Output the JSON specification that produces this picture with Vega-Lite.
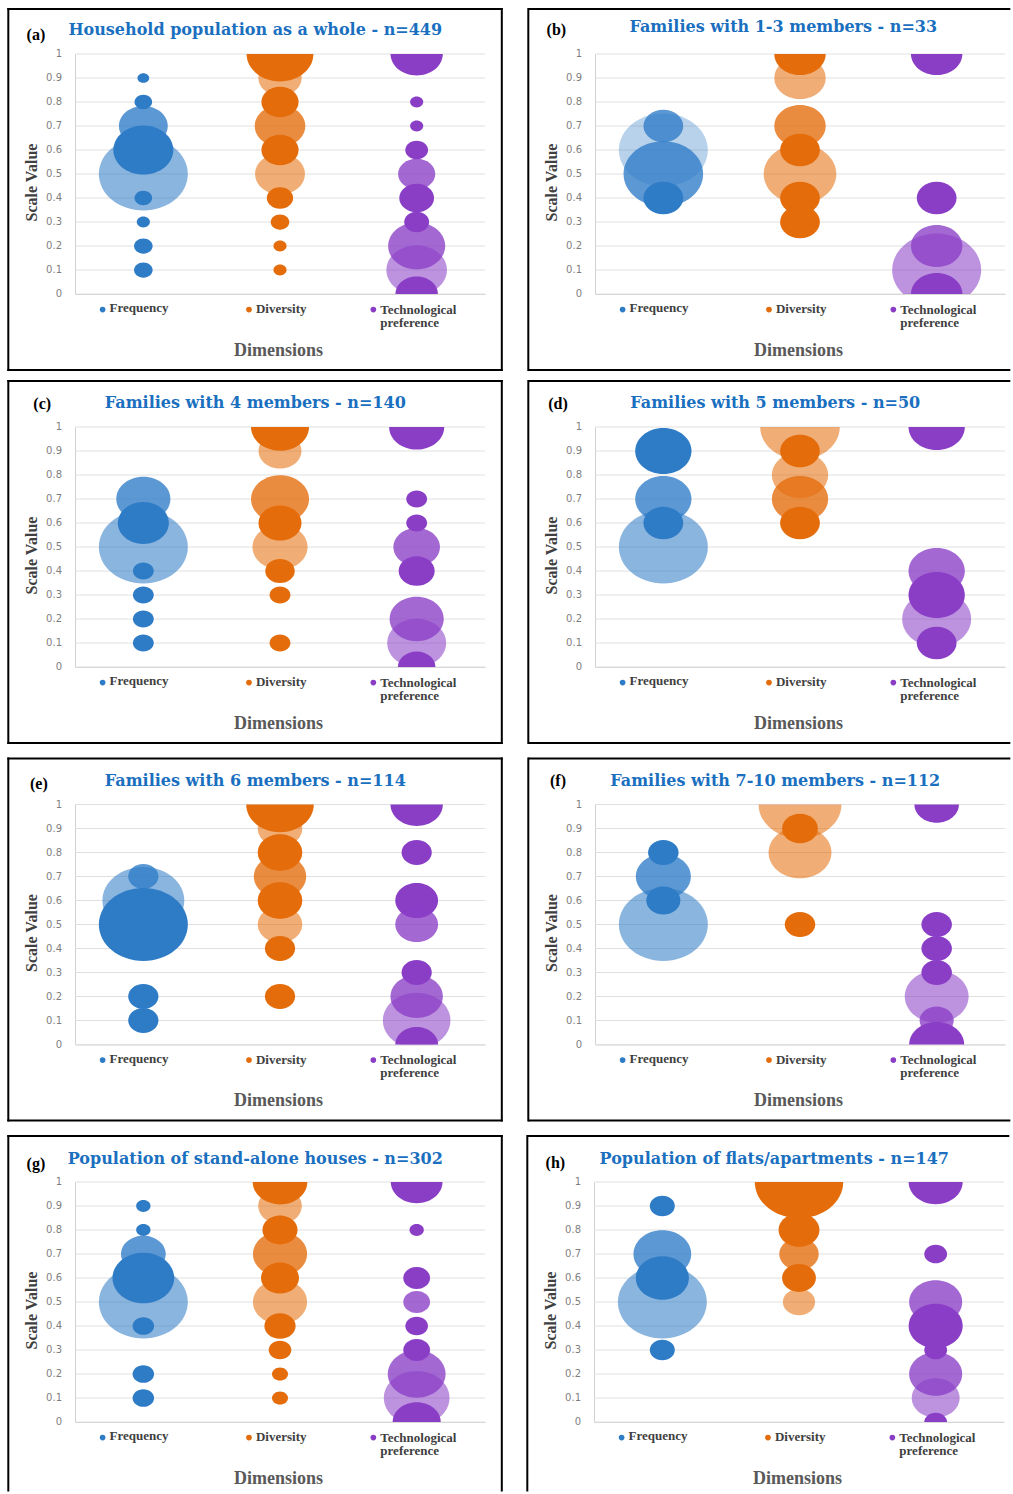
{
  "$schema": "https://vega.github.io/schema/vega-lite/v6.json",
  "padding": {"left": 6, "top": 7, "right": 0, "bottom": 0},
  "datasets": {
    "ticks": [{"t":0},{"t":0.1},{"t":0.2},{"t":0.3},{"t":0.4},{"t":0.5},{"t":0.6},{"t":0.7},{"t":0.8},{"t":0.9},{"t":1}],
    "bubbles": [
      {"p":"a","dim":"Frequency","x":1,"v":0.9,"n":4,"tone":"solid"},
      {"p":"a","dim":"Frequency","x":1,"v":0.8,"n":9,"tone":"solid"},
      {"p":"a","dim":"Frequency","x":1,"v":0.7,"n":69,"tone":"medium"},
      {"p":"a","dim":"Frequency","x":1,"v":0.6,"n":104,"tone":"solid"},
      {"p":"a","dim":"Frequency","x":1,"v":0.5,"n":229,"tone":"light"},
      {"p":"a","dim":"Frequency","x":1,"v":0.4,"n":9,"tone":"solid"},
      {"p":"a","dim":"Frequency","x":1,"v":0.3,"n":5,"tone":"solid"},
      {"p":"a","dim":"Frequency","x":1,"v":0.2,"n":10,"tone":"solid"},
      {"p":"a","dim":"Frequency","x":1,"v":0.1,"n":10,"tone":"solid"},
      {"p":"a","dim":"Diversity","x":2,"v":1,"n":129,"tone":"solid"},
      {"p":"a","dim":"Diversity","x":2,"v":0.9,"n":54,"tone":"light"},
      {"p":"a","dim":"Diversity","x":2,"v":0.8,"n":40,"tone":"solid"},
      {"p":"a","dim":"Diversity","x":2,"v":0.7,"n":74,"tone":"medium"},
      {"p":"a","dim":"Diversity","x":2,"v":0.6,"n":40,"tone":"solid"},
      {"p":"a","dim":"Diversity","x":2,"v":0.5,"n":72,"tone":"light"},
      {"p":"a","dim":"Diversity","x":2,"v":0.4,"n":20,"tone":"solid"},
      {"p":"a","dim":"Diversity","x":2,"v":0.3,"n":10,"tone":"solid"},
      {"p":"a","dim":"Diversity","x":2,"v":0.2,"n":5,"tone":"solid"},
      {"p":"a","dim":"Diversity","x":2,"v":0.1,"n":5,"tone":"solid"},
      {"p":"a","dim":"Technological preference","x":3,"v":1,"n":79,"tone":"solid"},
      {"p":"a","dim":"Technological preference","x":3,"v":0.8,"n":5,"tone":"solid"},
      {"p":"a","dim":"Technological preference","x":3,"v":0.7,"n":5,"tone":"solid"},
      {"p":"a","dim":"Technological preference","x":3,"v":0.6,"n":15,"tone":"solid"},
      {"p":"a","dim":"Technological preference","x":3,"v":0.5,"n":40,"tone":"medium"},
      {"p":"a","dim":"Technological preference","x":3,"v":0.4,"n":35,"tone":"solid"},
      {"p":"a","dim":"Technological preference","x":3,"v":0.3,"n":18,"tone":"solid"},
      {"p":"a","dim":"Technological preference","x":3,"v":0.2,"n":94,"tone":"medium"},
      {"p":"a","dim":"Technological preference","x":3,"v":0.1,"n":106,"tone":"light"},
      {"p":"a","dim":"Technological preference","x":3,"v":0,"n":52,"tone":"solid"},

      {"p":"b","dim":"Frequency","x":1,"v":0.7,"n":3,"tone":"medium"},
      {"p":"b","dim":"Frequency","x":1,"v":0.6,"n":15,"tone":"faint"},
      {"p":"b","dim":"Frequency","x":1,"v":0.5,"n":12,"tone":"medium"},
      {"p":"b","dim":"Frequency","x":1,"v":0.4,"n":3,"tone":"solid"},
      {"p":"b","dim":"Diversity","x":2,"v":1,"n":5,"tone":"solid"},
      {"p":"b","dim":"Diversity","x":2,"v":0.9,"n":5,"tone":"light"},
      {"p":"b","dim":"Diversity","x":2,"v":0.7,"n":5,"tone":"medium"},
      {"p":"b","dim":"Diversity","x":2,"v":0.6,"n":3,"tone":"solid"},
      {"p":"b","dim":"Diversity","x":2,"v":0.5,"n":10,"tone":"light"},
      {"p":"b","dim":"Diversity","x":2,"v":0.4,"n":3,"tone":"solid"},
      {"p":"b","dim":"Diversity","x":2,"v":0.3,"n":3,"tone":"solid"},
      {"p":"b","dim":"Technological preference","x":3,"v":1,"n":5,"tone":"solid"},
      {"p":"b","dim":"Technological preference","x":3,"v":0.4,"n":3,"tone":"solid"},
      {"p":"b","dim":"Technological preference","x":3,"v":0.2,"n":5,"tone":"medium"},
      {"p":"b","dim":"Technological preference","x":3,"v":0.1,"n":15,"tone":"light"},
      {"p":"b","dim":"Technological preference","x":3,"v":0,"n":5,"tone":"solid"},

      {"p":"c","dim":"Frequency","x":1,"v":0.7,"n":27,"tone":"medium"},
      {"p":"c","dim":"Frequency","x":1,"v":0.6,"n":24,"tone":"solid"},
      {"p":"c","dim":"Frequency","x":1,"v":0.5,"n":73,"tone":"light"},
      {"p":"c","dim":"Frequency","x":1,"v":0.4,"n":4,"tone":"solid"},
      {"p":"c","dim":"Frequency","x":1,"v":0.3,"n":4,"tone":"solid"},
      {"p":"c","dim":"Frequency","x":1,"v":0.2,"n":4,"tone":"solid"},
      {"p":"c","dim":"Frequency","x":1,"v":0.1,"n":4,"tone":"solid"},
      {"p":"c","dim":"Diversity","x":2,"v":1,"n":31,"tone":"solid"},
      {"p":"c","dim":"Diversity","x":2,"v":0.9,"n":17,"tone":"light"},
      {"p":"c","dim":"Diversity","x":2,"v":0.7,"n":31,"tone":"medium"},
      {"p":"c","dim":"Diversity","x":2,"v":0.6,"n":17,"tone":"solid"},
      {"p":"c","dim":"Diversity","x":2,"v":0.5,"n":28,"tone":"light"},
      {"p":"c","dim":"Diversity","x":2,"v":0.4,"n":8,"tone":"solid"},
      {"p":"c","dim":"Diversity","x":2,"v":0.3,"n":4,"tone":"solid"},
      {"p":"c","dim":"Diversity","x":2,"v":0.1,"n":4,"tone":"solid"},
      {"p":"c","dim":"Technological preference","x":3,"v":1,"n":28,"tone":"solid"},
      {"p":"c","dim":"Technological preference","x":3,"v":0.7,"n":4,"tone":"solid"},
      {"p":"c","dim":"Technological preference","x":3,"v":0.6,"n":4,"tone":"solid"},
      {"p":"c","dim":"Technological preference","x":3,"v":0.5,"n":20,"tone":"medium"},
      {"p":"c","dim":"Technological preference","x":3,"v":0.4,"n":12,"tone":"solid"},
      {"p":"c","dim":"Technological preference","x":3,"v":0.2,"n":27,"tone":"medium"},
      {"p":"c","dim":"Technological preference","x":3,"v":0.1,"n":32,"tone":"light"},
      {"p":"c","dim":"Technological preference","x":3,"v":0,"n":13,"tone":"solid"},

      {"p":"d","dim":"Frequency","x":1,"v":0.9,"n":10,"tone":"solid"},
      {"p":"d","dim":"Frequency","x":1,"v":0.7,"n":10,"tone":"medium"},
      {"p":"d","dim":"Frequency","x":1,"v":0.6,"n":5,"tone":"solid"},
      {"p":"d","dim":"Frequency","x":1,"v":0.5,"n":25,"tone":"light"},
      {"p":"d","dim":"Diversity","x":2,"v":1,"n":20,"tone":"light"},
      {"p":"d","dim":"Diversity","x":2,"v":0.9,"n":5,"tone":"solid"},
      {"p":"d","dim":"Diversity","x":2,"v":0.8,"n":10,"tone":"light"},
      {"p":"d","dim":"Diversity","x":2,"v":0.7,"n":10,"tone":"medium"},
      {"p":"d","dim":"Diversity","x":2,"v":0.6,"n":5,"tone":"solid"},
      {"p":"d","dim":"Technological preference","x":3,"v":1,"n":10,"tone":"solid"},
      {"p":"d","dim":"Technological preference","x":3,"v":0.4,"n":10,"tone":"medium"},
      {"p":"d","dim":"Technological preference","x":3,"v":0.3,"n":10,"tone":"solid"},
      {"p":"d","dim":"Technological preference","x":3,"v":0.2,"n":15,"tone":"light"},
      {"p":"d","dim":"Technological preference","x":3,"v":0.1,"n":5,"tone":"solid"},

      {"p":"e","dim":"Frequency","x":1,"v":0.7,"n":6,"tone":"medium"},
      {"p":"e","dim":"Frequency","x":1,"v":0.6,"n":44,"tone":"light"},
      {"p":"e","dim":"Frequency","x":1,"v":0.5,"n":52,"tone":"solid"},
      {"p":"e","dim":"Frequency","x":1,"v":0.2,"n":6,"tone":"solid"},
      {"p":"e","dim":"Frequency","x":1,"v":0.1,"n":6,"tone":"solid"},
      {"p":"e","dim":"Diversity","x":2,"v":1,"n":30,"tone":"solid"},
      {"p":"e","dim":"Diversity","x":2,"v":0.9,"n":13,"tone":"light"},
      {"p":"e","dim":"Diversity","x":2,"v":0.8,"n":13,"tone":"solid"},
      {"p":"e","dim":"Diversity","x":2,"v":0.7,"n":18,"tone":"medium"},
      {"p":"e","dim":"Diversity","x":2,"v":0.6,"n":13,"tone":"solid"},
      {"p":"e","dim":"Diversity","x":2,"v":0.5,"n":13,"tone":"light"},
      {"p":"e","dim":"Diversity","x":2,"v":0.4,"n":6,"tone":"solid"},
      {"p":"e","dim":"Diversity","x":2,"v":0.2,"n":6,"tone":"solid"},
      {"p":"e","dim":"Technological preference","x":3,"v":1,"n":18,"tone":"solid"},
      {"p":"e","dim":"Technological preference","x":3,"v":0.8,"n":6,"tone":"solid"},
      {"p":"e","dim":"Technological preference","x":3,"v":0.6,"n":12,"tone":"solid"},
      {"p":"e","dim":"Technological preference","x":3,"v":0.5,"n":12,"tone":"medium"},
      {"p":"e","dim":"Technological preference","x":3,"v":0.3,"n":6,"tone":"solid"},
      {"p":"e","dim":"Technological preference","x":3,"v":0.2,"n":18,"tone":"medium"},
      {"p":"e","dim":"Technological preference","x":3,"v":0.1,"n":30,"tone":"light"},
      {"p":"e","dim":"Technological preference","x":3,"v":0,"n":12,"tone":"solid"},

      {"p":"f","dim":"Frequency","x":1,"v":0.8,"n":8,"tone":"solid"},
      {"p":"f","dim":"Frequency","x":1,"v":0.7,"n":26,"tone":"medium"},
      {"p":"f","dim":"Frequency","x":1,"v":0.6,"n":10,"tone":"solid"},
      {"p":"f","dim":"Frequency","x":1,"v":0.5,"n":68,"tone":"light"},
      {"p":"f","dim":"Diversity","x":2,"v":1,"n":59,"tone":"light"},
      {"p":"f","dim":"Diversity","x":2,"v":0.9,"n":11,"tone":"solid"},
      {"p":"f","dim":"Diversity","x":2,"v":0.8,"n":34,"tone":"light"},
      {"p":"f","dim":"Diversity","x":2,"v":0.5,"n":8,"tone":"solid"},
      {"p":"f","dim":"Technological preference","x":3,"v":1,"n":17,"tone":"solid"},
      {"p":"f","dim":"Technological preference","x":3,"v":0.5,"n":8,"tone":"solid"},
      {"p":"f","dim":"Technological preference","x":3,"v":0.4,"n":8,"tone":"solid"},
      {"p":"f","dim":"Technological preference","x":3,"v":0.3,"n":8,"tone":"solid"},
      {"p":"f","dim":"Technological preference","x":3,"v":0.2,"n":35,"tone":"light"},
      {"p":"f","dim":"Technological preference","x":3,"v":0.1,"n":10,"tone":"medium"},
      {"p":"f","dim":"Technological preference","x":3,"v":0,"n":26,"tone":"solid"},

      {"p":"g","dim":"Frequency","x":1,"v":0.9,"n":4,"tone":"solid"},
      {"p":"g","dim":"Frequency","x":1,"v":0.8,"n":4,"tone":"solid"},
      {"p":"g","dim":"Frequency","x":1,"v":0.7,"n":39,"tone":"medium"},
      {"p":"g","dim":"Frequency","x":1,"v":0.6,"n":74,"tone":"solid"},
      {"p":"g","dim":"Frequency","x":1,"v":0.5,"n":154,"tone":"light"},
      {"p":"g","dim":"Frequency","x":1,"v":0.4,"n":9,"tone":"solid"},
      {"p":"g","dim":"Frequency","x":1,"v":0.2,"n":9,"tone":"solid"},
      {"p":"g","dim":"Frequency","x":1,"v":0.1,"n":9,"tone":"solid"},
      {"p":"g","dim":"Diversity","x":2,"v":1,"n":58,"tone":"solid"},
      {"p":"g","dim":"Diversity","x":2,"v":0.9,"n":37,"tone":"light"},
      {"p":"g","dim":"Diversity","x":2,"v":0.8,"n":24,"tone":"solid"},
      {"p":"g","dim":"Diversity","x":2,"v":0.7,"n":57,"tone":"medium"},
      {"p":"g","dim":"Diversity","x":2,"v":0.6,"n":28,"tone":"solid"},
      {"p":"g","dim":"Diversity","x":2,"v":0.5,"n":57,"tone":"light"},
      {"p":"g","dim":"Diversity","x":2,"v":0.4,"n":19,"tone":"solid"},
      {"p":"g","dim":"Diversity","x":2,"v":0.3,"n":10,"tone":"solid"},
      {"p":"g","dim":"Diversity","x":2,"v":0.2,"n":5,"tone":"solid"},
      {"p":"g","dim":"Diversity","x":2,"v":0.1,"n":5,"tone":"solid"},
      {"p":"g","dim":"Technological preference","x":3,"v":1,"n":52,"tone":"solid"},
      {"p":"g","dim":"Technological preference","x":3,"v":0.8,"n":4,"tone":"solid"},
      {"p":"g","dim":"Technological preference","x":3,"v":0.6,"n":14,"tone":"solid"},
      {"p":"g","dim":"Technological preference","x":3,"v":0.5,"n":14,"tone":"medium"},
      {"p":"g","dim":"Technological preference","x":3,"v":0.4,"n":10,"tone":"solid"},
      {"p":"g","dim":"Technological preference","x":3,"v":0.3,"n":14,"tone":"solid"},
      {"p":"g","dim":"Technological preference","x":3,"v":0.2,"n":65,"tone":"medium"},
      {"p":"g","dim":"Technological preference","x":3,"v":0.1,"n":84,"tone":"light"},
      {"p":"g","dim":"Technological preference","x":3,"v":0,"n":45,"tone":"solid"},

      {"p":"h","dim":"Frequency","x":1,"v":0.9,"n":6,"tone":"solid"},
      {"p":"h","dim":"Frequency","x":1,"v":0.7,"n":32,"tone":"medium"},
      {"p":"h","dim":"Frequency","x":1,"v":0.6,"n":27,"tone":"solid"},
      {"p":"h","dim":"Frequency","x":1,"v":0.5,"n":76,"tone":"light"},
      {"p":"h","dim":"Frequency","x":1,"v":0.3,"n":6,"tone":"solid"},
      {"p":"h","dim":"Diversity","x":2,"v":1,"n":75,"tone":"solid"},
      {"p":"h","dim":"Diversity","x":2,"v":0.8,"n":16,"tone":"solid"},
      {"p":"h","dim":"Diversity","x":2,"v":0.7,"n":15,"tone":"medium"},
      {"p":"h","dim":"Diversity","x":2,"v":0.6,"n":11,"tone":"solid"},
      {"p":"h","dim":"Diversity","x":2,"v":0.5,"n":10,"tone":"light"},
      {"p":"h","dim":"Technological preference","x":3,"v":1,"n":28,"tone":"solid"},
      {"p":"h","dim":"Technological preference","x":3,"v":0.7,"n":5,"tone":"solid"},
      {"p":"h","dim":"Technological preference","x":3,"v":0.5,"n":27,"tone":"medium"},
      {"p":"h","dim":"Technological preference","x":3,"v":0.4,"n":28,"tone":"solid"},
      {"p":"h","dim":"Technological preference","x":3,"v":0.3,"n":5,"tone":"solid"},
      {"p":"h","dim":"Technological preference","x":3,"v":0.2,"n":27,"tone":"medium"},
      {"p":"h","dim":"Technological preference","x":3,"v":0.1,"n":22,"tone":"light"},
      {"p":"h","dim":"Technological preference","x":3,"v":0,"n":5,"tone":"solid"}
    ]
  },
  "spacing": 7,
  "resolve": {"scale": {"size": "independent"}},
  "vconcat": [
    {
      "spacing": 22,
      "resolve": {"scale": {"size": "independent"}},
      "hconcat": [
        {
          "width": 410, "height": 240,
          "layer": [
            {"data": {"name": "ticks"}, "mark": {"type": "rule", "color": "#E0E0E0", "strokeWidth": 1}, "encoding": {"x": {"datum": 0.5}, "x2": {"datum": 3.5}, "y": {"field": "t", "type": "quantitative", "title": "Scale Value"}}},
            {"data": {"name": "bubbles"}, "transform": [{"filter": "datum.p == 'a'"}],
             "mark": {"type": "point", "filled": true, "clip": true, "strokeWidth": 0, "shape": "M1,0C1,0.4529,0.5523,0.82,0,0.82C-0.5523,0.82,-1,0.4529,-1,0C-1,-0.4529,-0.5523,-0.82,0,-0.82C0.5523,-0.82,1,-0.4529,1,0Z"},
             "encoding": {
               "x": {"field": "x", "type": "quantitative", "scale": {"domain": [0.5, 3.5], "nice": false, "zero": false}, "axis": {"title": "Dimensions", "labels": false, "ticks": false, "grid": false}},
               "y": {"field": "v", "type": "quantitative", "scale": {"domain": [0, 1], "nice": false, "zero": false}, "axis": {"title": "Scale Value", "labels": false, "grid": false, "ticks": false}},
               "size": {"field": "n", "type": "quantitative", "scale": {"zero": true, "nice": false, "range": [0, 7921]}, "legend": null},
               "color": {"field": "dim", "type": "nominal", "scale": {"domain": ["Frequency", "Diversity", "Technological preference"], "range": ["#2E7BC6", "#E46C0A", "#8A3EC6"]}, "legend": null},
               "opacity": {"field": "tone", "type": "ordinal", "scale": {"domain": ["solid", "medium", "light", "faint"], "range": [1, 0.34]}, "legend": null},
               "order": {"field": "n", "type": "quantitative", "sort": "descending"}
             }},
            {"data": {"name": "ticks"}, "mark": {"type": "text", "font": "DejaVu Sans", "fontSize": 10, "color": "#7F7F7F", "align": "right", "baseline": "middle", "dx": -13}, "encoding": {"x": {"datum": 0.5}, "y": {"field": "t", "type": "quantitative", "title": "Scale Value"}, "text": {"field": "t", "type": "quantitative", "format": "~g"}}},
            {"data": {"values": [{}]}, "mark": {"type": "rule", "color": "#000000", "strokeWidth": 2, "strokeCap": "square"}, "encoding": {"x": {"datum": 0.012}, "y": {"datum": -0.3167}, "y2": {"datum": 1.1875}}},
            {"data": {"values": [{}]}, "mark": {"type": "rule", "color": "#000000", "strokeWidth": 2, "strokeCap": "square"}, "encoding": {"x": {"datum": 0.012}, "x2": {"datum": 3.623}, "y": {"datum": 1.1875}}},
            {"data": {"values": [{}]}, "mark": {"type": "rule", "color": "#000000", "strokeWidth": 2, "strokeCap": "square"}, "encoding": {"x": {"datum": 3.623}, "y": {"datum": -0.3167}, "y2": {"datum": 1.1875}}},
            {"data": {"values": [{}]}, "mark": {"type": "rule", "color": "#000000", "strokeWidth": 2, "strokeCap": "square"}, "encoding": {"x": {"datum": 0.012}, "x2": {"datum": 3.623}, "y": {"datum": -0.3167}}},
            {"data": {"values": [{}]}, "mark": {"type": "text", "text": "Household population as a whole - n=449", "font": "DejaVu Serif", "fontSize": 16, "fontWeight": "bold", "color": "#1A6FBF", "align": "center", "baseline": "middle"}, "encoding": {"x": {"datum": 1.819}, "y": {"datum": 1.1}}},
            {"data": {"values": [{}]}, "mark": {"type": "text", "text": "(a)", "font": "Liberation Serif", "fontSize": 16, "fontWeight": "bold", "color": "#000000", "align": "left", "baseline": "middle"}, "encoding": {"x": {"datum": 0.146}, "y": {"datum": 1.08}}},
            {"data": {"values": [{}]}, "mark": {"type": "circle", "size": 32, "opacity": 1, "color": "#2E7BC6"}, "encoding": {"x": {"datum": 0.702}, "y": {"datum": -0.065}}},
            {"data": {"values": [{}]}, "mark": {"type": "circle", "size": 32, "opacity": 1, "color": "#E46C0A"}, "encoding": {"x": {"datum": 1.773}, "y": {"datum": -0.065}}},
            {"data": {"values": [{}]}, "mark": {"type": "circle", "size": 32, "opacity": 1, "color": "#8A3EC6"}, "encoding": {"x": {"datum": 2.683}, "y": {"datum": -0.065}}},
            {"data": {"values": [{}]}, "mark": {"type": "text", "text": "Frequency", "font": "Liberation Serif", "fontSize": 13, "fontWeight": "bold", "color": "#404040", "align": "left", "baseline": "top", "dx": 7}, "encoding": {"x": {"datum": 0.702}, "y": {"datum": -0.035}}},
            {"data": {"values": [{}]}, "mark": {"type": "text", "text": "Diversity", "font": "Liberation Serif", "fontSize": 13, "fontWeight": "bold", "color": "#404040", "align": "left", "baseline": "top", "dx": 7}, "encoding": {"x": {"datum": 1.773}, "y": {"datum": -0.039}}},
            {"data": {"values": [{}]}, "mark": {"type": "text", "text": ["Technological", "preference"], "lineHeight": 13, "font": "Liberation Serif", "fontSize": 13, "fontWeight": "bold", "color": "#404040", "align": "left", "baseline": "top", "dx": 7}, "encoding": {"x": {"datum": 2.683}, "y": {"datum": -0.041}}}
          ]
        },
        {
          "width": 410, "height": 240,
          "layer": [
            {"data": {"name": "ticks"}, "mark": {"type": "rule", "color": "#E0E0E0", "strokeWidth": 1}, "encoding": {"x": {"datum": 0.5}, "x2": {"datum": 3.5}, "y": {"field": "t", "type": "quantitative", "title": "Scale Value"}}},
            {"data": {"name": "bubbles"}, "transform": [{"filter": "datum.p == 'b'"}],
             "mark": {"type": "point", "filled": true, "clip": true, "strokeWidth": 0, "shape": "M1,0C1,0.4529,0.5523,0.82,0,0.82C-0.5523,0.82,-1,0.4529,-1,0C-1,-0.4529,-0.5523,-0.82,0,-0.82C0.5523,-0.82,1,-0.4529,1,0Z"},
             "encoding": {
               "x": {"field": "x", "type": "quantitative", "scale": {"domain": [0.5, 3.5], "nice": false, "zero": false}, "axis": {"title": "Dimensions", "labels": false, "ticks": false, "grid": false}},
               "y": {"field": "v", "type": "quantitative", "scale": {"domain": [0, 1], "nice": false, "zero": false}, "axis": {"title": "Scale Value", "labels": false, "grid": false, "ticks": false}},
               "size": {"field": "n", "type": "quantitative", "scale": {"zero": true, "nice": false, "range": [0, 7921]}, "legend": null},
               "color": {"field": "dim", "type": "nominal", "scale": {"domain": ["Frequency", "Diversity", "Technological preference"], "range": ["#2E7BC6", "#E46C0A", "#8A3EC6"]}, "legend": null},
               "opacity": {"field": "tone", "type": "ordinal", "scale": {"domain": ["solid", "medium", "light", "faint"], "range": [1, 0.34]}, "legend": null},
               "order": {"field": "n", "type": "quantitative", "sort": "descending"}
             }},
            {"data": {"name": "ticks"}, "mark": {"type": "text", "font": "DejaVu Sans", "fontSize": 10, "color": "#7F7F7F", "align": "right", "baseline": "middle", "dx": -13}, "encoding": {"x": {"datum": 0.5}, "y": {"field": "t", "type": "quantitative", "title": "Scale Value"}, "text": {"field": "t", "type": "quantitative", "format": "~g"}}},
            {"data": {"values": [{}]}, "mark": {"type": "rule", "color": "#000000", "strokeWidth": 2, "strokeCap": "square"}, "encoding": {"x": {"datum": 0.012}, "y": {"datum": -0.3167}, "y2": {"datum": 1.1875}}},
            {"data": {"values": [{}]}, "mark": {"type": "rule", "color": "#000000", "strokeWidth": 2}, "encoding": {"x": {"datum": 0.012}, "x2": {"datum": 3.539}, "y": {"datum": 1.1875}}},
            {"data": {"values": [{}]}, "mark": {"type": "rule", "color": "#000000", "strokeWidth": 2}, "encoding": {"x": {"datum": 0.012}, "x2": {"datum": 3.539}, "y": {"datum": -0.3167}}},
            {"data": {"values": [{}]}, "mark": {"type": "text", "text": "Families with 1-3 members - n=33", "font": "DejaVu Serif", "fontSize": 16, "fontWeight": "bold", "color": "#1A6FBF", "align": "center", "baseline": "middle"}, "encoding": {"x": {"datum": 1.878}, "y": {"datum": 1.111}}},
            {"data": {"values": [{}]}, "mark": {"type": "text", "text": "(b)", "font": "Liberation Serif", "fontSize": 16, "fontWeight": "bold", "color": "#000000", "align": "left", "baseline": "middle"}, "encoding": {"x": {"datum": 0.146}, "y": {"datum": 1.101}}},
            {"data": {"values": [{}]}, "mark": {"type": "circle", "size": 32, "opacity": 1, "color": "#2E7BC6"}, "encoding": {"x": {"datum": 0.702}, "y": {"datum": -0.065}}},
            {"data": {"values": [{}]}, "mark": {"type": "circle", "size": 32, "opacity": 1, "color": "#E46C0A"}, "encoding": {"x": {"datum": 1.773}, "y": {"datum": -0.065}}},
            {"data": {"values": [{}]}, "mark": {"type": "circle", "size": 32, "opacity": 1, "color": "#8A3EC6"}, "encoding": {"x": {"datum": 2.683}, "y": {"datum": -0.065}}},
            {"data": {"values": [{}]}, "mark": {"type": "text", "text": "Frequency", "font": "Liberation Serif", "fontSize": 13, "fontWeight": "bold", "color": "#404040", "align": "left", "baseline": "top", "dx": 7}, "encoding": {"x": {"datum": 0.702}, "y": {"datum": -0.035}}},
            {"data": {"values": [{}]}, "mark": {"type": "text", "text": "Diversity", "font": "Liberation Serif", "fontSize": 13, "fontWeight": "bold", "color": "#404040", "align": "left", "baseline": "top", "dx": 7}, "encoding": {"x": {"datum": 1.773}, "y": {"datum": -0.039}}},
            {"data": {"values": [{}]}, "mark": {"type": "text", "text": ["Technological", "preference"], "lineHeight": 13, "font": "Liberation Serif", "fontSize": 13, "fontWeight": "bold", "color": "#404040", "align": "left", "baseline": "top", "dx": 7}, "encoding": {"x": {"datum": 2.683}, "y": {"datum": -0.041}}}
          ]
        }
      ]
    },
    {
      "spacing": 11.5,
      "resolve": {"scale": {"size": "independent"}},
      "vconcat": [
        {
          "spacing": 22,
          "resolve": {"scale": {"size": "independent"}},
          "hconcat": [
            {
              "width": 410, "height": 240,
              "layer": [
                {"data": {"name": "ticks"}, "mark": {"type": "rule", "color": "#E0E0E0", "strokeWidth": 1}, "encoding": {"x": {"datum": 0.5}, "x2": {"datum": 3.5}, "y": {"field": "t", "type": "quantitative", "title": "Scale Value"}}},
                {"data": {"name": "bubbles"}, "transform": [{"filter": "datum.p == 'c'"}],
                 "mark": {"type": "point", "filled": true, "clip": true, "strokeWidth": 0, "shape": "M1,0C1,0.4529,0.5523,0.82,0,0.82C-0.5523,0.82,-1,0.4529,-1,0C-1,-0.4529,-0.5523,-0.82,0,-0.82C0.5523,-0.82,1,-0.4529,1,0Z"},
                 "encoding": {
                   "x": {"field": "x", "type": "quantitative", "scale": {"domain": [0.5, 3.5], "nice": false, "zero": false}, "axis": {"title": "Dimensions", "labels": false, "ticks": false, "grid": false}},
                   "y": {"field": "v", "type": "quantitative", "scale": {"domain": [0, 1], "nice": false, "zero": false}, "axis": {"title": "Scale Value", "labels": false, "grid": false, "ticks": false}},
                   "size": {"field": "n", "type": "quantitative", "scale": {"zero": true, "nice": false, "range": [0, 7921]}, "legend": null},
                   "color": {"field": "dim", "type": "nominal", "scale": {"domain": ["Frequency", "Diversity", "Technological preference"], "range": ["#2E7BC6", "#E46C0A", "#8A3EC6"]}, "legend": null},
                   "opacity": {"field": "tone", "type": "ordinal", "scale": {"domain": ["solid", "medium", "light", "faint"], "range": [1, 0.34]}, "legend": null},
                   "order": {"field": "n", "type": "quantitative", "sort": "descending"}
                 }},
                {"data": {"name": "ticks"}, "mark": {"type": "text", "font": "DejaVu Sans", "fontSize": 10, "color": "#7F7F7F", "align": "right", "baseline": "middle", "dx": -13}, "encoding": {"x": {"datum": 0.5}, "y": {"field": "t", "type": "quantitative", "title": "Scale Value"}, "text": {"field": "t", "type": "quantitative", "format": "~g"}}},
                {"data": {"values": [{}]}, "mark": {"type": "rule", "color": "#000000", "strokeWidth": 2, "strokeCap": "square"}, "encoding": {"x": {"datum": 0.012}, "y": {"datum": -0.3167}, "y2": {"datum": 1.1917}}},
                {"data": {"values": [{}]}, "mark": {"type": "rule", "color": "#000000", "strokeWidth": 2, "strokeCap": "square"}, "encoding": {"x": {"datum": 0.012}, "x2": {"datum": 3.623}, "y": {"datum": 1.1917}}},
                {"data": {"values": [{}]}, "mark": {"type": "rule", "color": "#000000", "strokeWidth": 2, "strokeCap": "square"}, "encoding": {"x": {"datum": 3.623}, "y": {"datum": -0.3167}, "y2": {"datum": 1.1917}}},
                {"data": {"values": [{}]}, "mark": {"type": "rule", "color": "#000000", "strokeWidth": 2, "strokeCap": "square"}, "encoding": {"x": {"datum": 0.012}, "x2": {"datum": 3.623}, "y": {"datum": -0.3167}}},
                {"data": {"values": [{}]}, "mark": {"type": "text", "text": "Families with 4 members - n=140", "font": "DejaVu Serif", "fontSize": 16, "fontWeight": "bold", "color": "#1A6FBF", "align": "center", "baseline": "middle"}, "encoding": {"x": {"datum": 1.819}, "y": {"datum": 1.098}}},
                {"data": {"values": [{}]}, "mark": {"type": "text", "text": "(c)", "font": "Liberation Serif", "fontSize": 16, "fontWeight": "bold", "color": "#000000", "align": "left", "baseline": "middle"}, "encoding": {"x": {"datum": 0.195}, "y": {"datum": 1.096}}},
                {"data": {"values": [{}]}, "mark": {"type": "circle", "size": 32, "opacity": 1, "color": "#2E7BC6"}, "encoding": {"x": {"datum": 0.702}, "y": {"datum": -0.065}}},
                {"data": {"values": [{}]}, "mark": {"type": "circle", "size": 32, "opacity": 1, "color": "#E46C0A"}, "encoding": {"x": {"datum": 1.773}, "y": {"datum": -0.065}}},
                {"data": {"values": [{}]}, "mark": {"type": "circle", "size": 32, "opacity": 1, "color": "#8A3EC6"}, "encoding": {"x": {"datum": 2.683}, "y": {"datum": -0.065}}},
                {"data": {"values": [{}]}, "mark": {"type": "text", "text": "Frequency", "font": "Liberation Serif", "fontSize": 13, "fontWeight": "bold", "color": "#404040", "align": "left", "baseline": "top", "dx": 7}, "encoding": {"x": {"datum": 0.702}, "y": {"datum": -0.035}}},
                {"data": {"values": [{}]}, "mark": {"type": "text", "text": "Diversity", "font": "Liberation Serif", "fontSize": 13, "fontWeight": "bold", "color": "#404040", "align": "left", "baseline": "top", "dx": 7}, "encoding": {"x": {"datum": 1.773}, "y": {"datum": -0.039}}},
                {"data": {"values": [{}]}, "mark": {"type": "text", "text": ["Technological", "preference"], "lineHeight": 13, "font": "Liberation Serif", "fontSize": 13, "fontWeight": "bold", "color": "#404040", "align": "left", "baseline": "top", "dx": 7}, "encoding": {"x": {"datum": 2.683}, "y": {"datum": -0.041}}}
              ]
            },
            {
              "width": 410, "height": 240,
              "layer": [
                {"data": {"name": "ticks"}, "mark": {"type": "rule", "color": "#E0E0E0", "strokeWidth": 1}, "encoding": {"x": {"datum": 0.5}, "x2": {"datum": 3.5}, "y": {"field": "t", "type": "quantitative", "title": "Scale Value"}}},
                {"data": {"name": "bubbles"}, "transform": [{"filter": "datum.p == 'd'"}],
                 "mark": {"type": "point", "filled": true, "clip": true, "strokeWidth": 0, "shape": "M1,0C1,0.4529,0.5523,0.82,0,0.82C-0.5523,0.82,-1,0.4529,-1,0C-1,-0.4529,-0.5523,-0.82,0,-0.82C0.5523,-0.82,1,-0.4529,1,0Z"},
                 "encoding": {
                   "x": {"field": "x", "type": "quantitative", "scale": {"domain": [0.5, 3.5], "nice": false, "zero": false}, "axis": {"title": "Dimensions", "labels": false, "ticks": false, "grid": false}},
                   "y": {"field": "v", "type": "quantitative", "scale": {"domain": [0, 1], "nice": false, "zero": false}, "axis": {"title": "Scale Value", "labels": false, "grid": false, "ticks": false}},
                   "size": {"field": "n", "type": "quantitative", "scale": {"zero": true, "nice": false, "range": [0, 7921]}, "legend": null},
                   "color": {"field": "dim", "type": "nominal", "scale": {"domain": ["Frequency", "Diversity", "Technological preference"], "range": ["#2E7BC6", "#E46C0A", "#8A3EC6"]}, "legend": null},
                   "opacity": {"field": "tone", "type": "ordinal", "scale": {"domain": ["solid", "medium", "light", "faint"], "range": [1, 0.34]}, "legend": null},
                   "order": {"field": "n", "type": "quantitative", "sort": "descending"}
                 }},
                {"data": {"name": "ticks"}, "mark": {"type": "text", "font": "DejaVu Sans", "fontSize": 10, "color": "#7F7F7F", "align": "right", "baseline": "middle", "dx": -13}, "encoding": {"x": {"datum": 0.5}, "y": {"field": "t", "type": "quantitative", "title": "Scale Value"}, "text": {"field": "t", "type": "quantitative", "format": "~g"}}},
                {"data": {"values": [{}]}, "mark": {"type": "rule", "color": "#000000", "strokeWidth": 2, "strokeCap": "square"}, "encoding": {"x": {"datum": 0.012}, "y": {"datum": -0.3167}, "y2": {"datum": 1.1917}}},
                {"data": {"values": [{}]}, "mark": {"type": "rule", "color": "#000000", "strokeWidth": 2}, "encoding": {"x": {"datum": 0.012}, "x2": {"datum": 3.539}, "y": {"datum": 1.1917}}},
                {"data": {"values": [{}]}, "mark": {"type": "rule", "color": "#000000", "strokeWidth": 2}, "encoding": {"x": {"datum": 0.012}, "x2": {"datum": 3.539}, "y": {"datum": -0.3167}}},
                {"data": {"values": [{}]}, "mark": {"type": "text", "text": "Families with 5 members - n=50", "font": "DejaVu Serif", "fontSize": 16, "fontWeight": "bold", "color": "#1A6FBF", "align": "center", "baseline": "middle"}, "encoding": {"x": {"datum": 1.819}, "y": {"datum": 1.098}}},
                {"data": {"values": [{}]}, "mark": {"type": "text", "text": "(d)", "font": "Liberation Serif", "fontSize": 16, "fontWeight": "bold", "color": "#000000", "align": "left", "baseline": "middle"}, "encoding": {"x": {"datum": 0.158}, "y": {"datum": 1.096}}},
                {"data": {"values": [{}]}, "mark": {"type": "circle", "size": 32, "opacity": 1, "color": "#2E7BC6"}, "encoding": {"x": {"datum": 0.702}, "y": {"datum": -0.065}}},
                {"data": {"values": [{}]}, "mark": {"type": "circle", "size": 32, "opacity": 1, "color": "#E46C0A"}, "encoding": {"x": {"datum": 1.773}, "y": {"datum": -0.065}}},
                {"data": {"values": [{}]}, "mark": {"type": "circle", "size": 32, "opacity": 1, "color": "#8A3EC6"}, "encoding": {"x": {"datum": 2.683}, "y": {"datum": -0.065}}},
                {"data": {"values": [{}]}, "mark": {"type": "text", "text": "Frequency", "font": "Liberation Serif", "fontSize": 13, "fontWeight": "bold", "color": "#404040", "align": "left", "baseline": "top", "dx": 7}, "encoding": {"x": {"datum": 0.702}, "y": {"datum": -0.035}}},
                {"data": {"values": [{}]}, "mark": {"type": "text", "text": "Diversity", "font": "Liberation Serif", "fontSize": 13, "fontWeight": "bold", "color": "#404040", "align": "left", "baseline": "top", "dx": 7}, "encoding": {"x": {"datum": 1.773}, "y": {"datum": -0.039}}},
                {"data": {"values": [{}]}, "mark": {"type": "text", "text": ["Technological", "preference"], "lineHeight": 13, "font": "Liberation Serif", "fontSize": 13, "fontWeight": "bold", "color": "#404040", "align": "left", "baseline": "top", "dx": 7}, "encoding": {"x": {"datum": 2.683}, "y": {"datum": -0.041}}}
              ]
            }
          ]
        },
        {
          "spacing": 22,
          "resolve": {"scale": {"size": "independent"}},
          "hconcat": [
            {
              "width": 410, "height": 240,
              "layer": [
                {"data": {"name": "ticks"}, "mark": {"type": "rule", "color": "#E0E0E0", "strokeWidth": 1}, "encoding": {"x": {"datum": 0.5}, "x2": {"datum": 3.5}, "y": {"field": "t", "type": "quantitative", "title": "Scale Value"}}},
                {"data": {"name": "bubbles"}, "transform": [{"filter": "datum.p == 'e'"}],
                 "mark": {"type": "point", "filled": true, "clip": true, "strokeWidth": 0, "shape": "M1,0C1,0.4529,0.5523,0.82,0,0.82C-0.5523,0.82,-1,0.4529,-1,0C-1,-0.4529,-0.5523,-0.82,0,-0.82C0.5523,-0.82,1,-0.4529,1,0Z"},
                 "encoding": {
                   "x": {"field": "x", "type": "quantitative", "scale": {"domain": [0.5, 3.5], "nice": false, "zero": false}, "axis": {"title": "Dimensions", "labels": false, "ticks": false, "grid": false}},
                   "y": {"field": "v", "type": "quantitative", "scale": {"domain": [0, 1], "nice": false, "zero": false}, "axis": {"title": "Scale Value", "labels": false, "grid": false, "ticks": false}},
                   "size": {"field": "n", "type": "quantitative", "scale": {"zero": true, "nice": false, "range": [0, 7921]}, "legend": null},
                   "color": {"field": "dim", "type": "nominal", "scale": {"domain": ["Frequency", "Diversity", "Technological preference"], "range": ["#2E7BC6", "#E46C0A", "#8A3EC6"]}, "legend": null},
                   "opacity": {"field": "tone", "type": "ordinal", "scale": {"domain": ["solid", "medium", "light", "faint"], "range": [1, 0.34]}, "legend": null},
                   "order": {"field": "n", "type": "quantitative", "sort": "descending"}
                 }},
                {"data": {"name": "ticks"}, "mark": {"type": "text", "font": "DejaVu Sans", "fontSize": 10, "color": "#7F7F7F", "align": "right", "baseline": "middle", "dx": -13}, "encoding": {"x": {"datum": 0.5}, "y": {"field": "t", "type": "quantitative", "title": "Scale Value"}, "text": {"field": "t", "type": "quantitative", "format": "~g"}}},
                {"data": {"values": [{}]}, "mark": {"type": "rule", "color": "#000000", "strokeWidth": 2, "strokeCap": "square"}, "encoding": {"x": {"datum": 0.012}, "y": {"datum": -0.3167}, "y2": {"datum": 1.1917}}},
                {"data": {"values": [{}]}, "mark": {"type": "rule", "color": "#000000", "strokeWidth": 2, "strokeCap": "square"}, "encoding": {"x": {"datum": 0.012}, "x2": {"datum": 3.623}, "y": {"datum": 1.1917}}},
                {"data": {"values": [{}]}, "mark": {"type": "rule", "color": "#000000", "strokeWidth": 2, "strokeCap": "square"}, "encoding": {"x": {"datum": 3.623}, "y": {"datum": -0.3167}, "y2": {"datum": 1.1917}}},
                {"data": {"values": [{}]}, "mark": {"type": "rule", "color": "#000000", "strokeWidth": 2, "strokeCap": "square"}, "encoding": {"x": {"datum": 0.012}, "x2": {"datum": 3.623}, "y": {"datum": -0.3167}}},
                {"data": {"values": [{}]}, "mark": {"type": "text", "text": "Families with 6 members - n=114", "font": "DejaVu Serif", "fontSize": 16, "fontWeight": "bold", "color": "#1A6FBF", "align": "center", "baseline": "middle"}, "encoding": {"x": {"datum": 1.819}, "y": {"datum": 1.098}}},
                {"data": {"values": [{}]}, "mark": {"type": "text", "text": "(e)", "font": "Liberation Serif", "fontSize": 16, "fontWeight": "bold", "color": "#000000", "align": "left", "baseline": "middle"}, "encoding": {"x": {"datum": 0.171}, "y": {"datum": 1.085}}},
                {"data": {"values": [{}]}, "mark": {"type": "circle", "size": 32, "opacity": 1, "color": "#2E7BC6"}, "encoding": {"x": {"datum": 0.702}, "y": {"datum": -0.065}}},
                {"data": {"values": [{}]}, "mark": {"type": "circle", "size": 32, "opacity": 1, "color": "#E46C0A"}, "encoding": {"x": {"datum": 1.773}, "y": {"datum": -0.065}}},
                {"data": {"values": [{}]}, "mark": {"type": "circle", "size": 32, "opacity": 1, "color": "#8A3EC6"}, "encoding": {"x": {"datum": 2.683}, "y": {"datum": -0.065}}},
                {"data": {"values": [{}]}, "mark": {"type": "text", "text": "Frequency", "font": "Liberation Serif", "fontSize": 13, "fontWeight": "bold", "color": "#404040", "align": "left", "baseline": "top", "dx": 7}, "encoding": {"x": {"datum": 0.702}, "y": {"datum": -0.035}}},
                {"data": {"values": [{}]}, "mark": {"type": "text", "text": "Diversity", "font": "Liberation Serif", "fontSize": 13, "fontWeight": "bold", "color": "#404040", "align": "left", "baseline": "top", "dx": 7}, "encoding": {"x": {"datum": 1.773}, "y": {"datum": -0.039}}},
                {"data": {"values": [{}]}, "mark": {"type": "text", "text": ["Technological", "preference"], "lineHeight": 13, "font": "Liberation Serif", "fontSize": 13, "fontWeight": "bold", "color": "#404040", "align": "left", "baseline": "top", "dx": 7}, "encoding": {"x": {"datum": 2.683}, "y": {"datum": -0.041}}}
              ]
            },
            {
              "width": 410, "height": 240,
              "layer": [
                {"data": {"name": "ticks"}, "mark": {"type": "rule", "color": "#E0E0E0", "strokeWidth": 1}, "encoding": {"x": {"datum": 0.5}, "x2": {"datum": 3.5}, "y": {"field": "t", "type": "quantitative", "title": "Scale Value"}}},
                {"data": {"name": "bubbles"}, "transform": [{"filter": "datum.p == 'f'"}],
                 "mark": {"type": "point", "filled": true, "clip": true, "strokeWidth": 0, "shape": "M1,0C1,0.4529,0.5523,0.82,0,0.82C-0.5523,0.82,-1,0.4529,-1,0C-1,-0.4529,-0.5523,-0.82,0,-0.82C0.5523,-0.82,1,-0.4529,1,0Z"},
                 "encoding": {
                   "x": {"field": "x", "type": "quantitative", "scale": {"domain": [0.5, 3.5], "nice": false, "zero": false}, "axis": {"title": "Dimensions", "labels": false, "ticks": false, "grid": false}},
                   "y": {"field": "v", "type": "quantitative", "scale": {"domain": [0, 1], "nice": false, "zero": false}, "axis": {"title": "Scale Value", "labels": false, "grid": false, "ticks": false}},
                   "size": {"field": "n", "type": "quantitative", "scale": {"zero": true, "nice": false, "range": [0, 7921]}, "legend": null},
                   "color": {"field": "dim", "type": "nominal", "scale": {"domain": ["Frequency", "Diversity", "Technological preference"], "range": ["#2E7BC6", "#E46C0A", "#8A3EC6"]}, "legend": null},
                   "opacity": {"field": "tone", "type": "ordinal", "scale": {"domain": ["solid", "medium", "light", "faint"], "range": [1, 0.34]}, "legend": null},
                   "order": {"field": "n", "type": "quantitative", "sort": "descending"}
                 }},
                {"data": {"name": "ticks"}, "mark": {"type": "text", "font": "DejaVu Sans", "fontSize": 10, "color": "#7F7F7F", "align": "right", "baseline": "middle", "dx": -13}, "encoding": {"x": {"datum": 0.5}, "y": {"field": "t", "type": "quantitative", "title": "Scale Value"}, "text": {"field": "t", "type": "quantitative", "format": "~g"}}},
                {"data": {"values": [{}]}, "mark": {"type": "rule", "color": "#000000", "strokeWidth": 2, "strokeCap": "square"}, "encoding": {"x": {"datum": 0.012}, "y": {"datum": -0.3167}, "y2": {"datum": 1.1917}}},
                {"data": {"values": [{}]}, "mark": {"type": "rule", "color": "#000000", "strokeWidth": 2}, "encoding": {"x": {"datum": 0.012}, "x2": {"datum": 3.539}, "y": {"datum": 1.1917}}},
                {"data": {"values": [{}]}, "mark": {"type": "rule", "color": "#000000", "strokeWidth": 2}, "encoding": {"x": {"datum": 0.012}, "x2": {"datum": 3.539}, "y": {"datum": -0.3167}}},
                {"data": {"values": [{}]}, "mark": {"type": "text", "text": "Families with 7-10 members - n=112", "font": "DejaVu Serif", "fontSize": 16, "fontWeight": "bold", "color": "#1A6FBF", "align": "center", "baseline": "middle"}, "encoding": {"x": {"datum": 1.819}, "y": {"datum": 1.098}}},
                {"data": {"values": [{}]}, "mark": {"type": "text", "text": "(f)", "font": "Liberation Serif", "fontSize": 16, "fontWeight": "bold", "color": "#000000", "align": "left", "baseline": "middle"}, "encoding": {"x": {"datum": 0.171}, "y": {"datum": 1.098}}},
                {"data": {"values": [{}]}, "mark": {"type": "circle", "size": 32, "opacity": 1, "color": "#2E7BC6"}, "encoding": {"x": {"datum": 0.702}, "y": {"datum": -0.065}}},
                {"data": {"values": [{}]}, "mark": {"type": "circle", "size": 32, "opacity": 1, "color": "#E46C0A"}, "encoding": {"x": {"datum": 1.773}, "y": {"datum": -0.065}}},
                {"data": {"values": [{}]}, "mark": {"type": "circle", "size": 32, "opacity": 1, "color": "#8A3EC6"}, "encoding": {"x": {"datum": 2.683}, "y": {"datum": -0.065}}},
                {"data": {"values": [{}]}, "mark": {"type": "text", "text": "Frequency", "font": "Liberation Serif", "fontSize": 13, "fontWeight": "bold", "color": "#404040", "align": "left", "baseline": "top", "dx": 7}, "encoding": {"x": {"datum": 0.702}, "y": {"datum": -0.035}}},
                {"data": {"values": [{}]}, "mark": {"type": "text", "text": "Diversity", "font": "Liberation Serif", "fontSize": 13, "fontWeight": "bold", "color": "#404040", "align": "left", "baseline": "top", "dx": 7}, "encoding": {"x": {"datum": 1.773}, "y": {"datum": -0.039}}},
                {"data": {"values": [{}]}, "mark": {"type": "text", "text": ["Technological", "preference"], "lineHeight": 13, "font": "Liberation Serif", "fontSize": 13, "fontWeight": "bold", "color": "#404040", "align": "left", "baseline": "top", "dx": 7}, "encoding": {"x": {"datum": 2.683}, "y": {"datum": -0.041}}}
              ]
            }
          ]
        },
        {
          "spacing": 22,
          "resolve": {"scale": {"size": "independent"}},
          "hconcat": [
            {
              "width": 410, "height": 240,
              "layer": [
                {"data": {"name": "ticks"}, "mark": {"type": "rule", "color": "#E0E0E0", "strokeWidth": 1}, "encoding": {"x": {"datum": 0.5}, "x2": {"datum": 3.5}, "y": {"field": "t", "type": "quantitative", "title": "Scale Value"}}},
                {"data": {"name": "bubbles"}, "transform": [{"filter": "datum.p == 'g'"}],
                 "mark": {"type": "point", "filled": true, "clip": true, "strokeWidth": 0, "shape": "M1,0C1,0.4529,0.5523,0.82,0,0.82C-0.5523,0.82,-1,0.4529,-1,0C-1,-0.4529,-0.5523,-0.82,0,-0.82C0.5523,-0.82,1,-0.4529,1,0Z"},
                 "encoding": {
                   "x": {"field": "x", "type": "quantitative", "scale": {"domain": [0.5, 3.5], "nice": false, "zero": false}, "axis": {"title": "Dimensions", "labels": false, "ticks": false, "grid": false}},
                   "y": {"field": "v", "type": "quantitative", "scale": {"domain": [0, 1], "nice": false, "zero": false}, "axis": {"title": "Scale Value", "labels": false, "grid": false, "ticks": false}},
                   "size": {"field": "n", "type": "quantitative", "scale": {"zero": true, "nice": false, "range": [0, 7921]}, "legend": null},
                   "color": {"field": "dim", "type": "nominal", "scale": {"domain": ["Frequency", "Diversity", "Technological preference"], "range": ["#2E7BC6", "#E46C0A", "#8A3EC6"]}, "legend": null},
                   "opacity": {"field": "tone", "type": "ordinal", "scale": {"domain": ["solid", "medium", "light", "faint"], "range": [1, 0.34]}, "legend": null},
                   "order": {"field": "n", "type": "quantitative", "sort": "descending"}
                 }},
                {"data": {"name": "ticks"}, "mark": {"type": "text", "font": "DejaVu Sans", "fontSize": 10, "color": "#7F7F7F", "align": "right", "baseline": "middle", "dx": -13}, "encoding": {"x": {"datum": 0.5}, "y": {"field": "t", "type": "quantitative", "title": "Scale Value"}, "text": {"field": "t", "type": "quantitative", "format": "~g"}}},
                {"data": {"values": [{}]}, "mark": {"type": "rule", "color": "#000000", "strokeWidth": 2}, "encoding": {"x": {"datum": 0.012}, "y": {"datum": -0.29}, "y2": {"datum": 1.1958}}},
                {"data": {"values": [{}]}, "mark": {"type": "rule", "color": "#000000", "strokeWidth": 2, "strokeCap": "square"}, "encoding": {"x": {"datum": 0.012}, "x2": {"datum": 3.623}, "y": {"datum": 1.1917}}},
                {"data": {"values": [{}]}, "mark": {"type": "rule", "color": "#000000", "strokeWidth": 2}, "encoding": {"x": {"datum": 3.623}, "y": {"datum": -0.29}, "y2": {"datum": 1.1958}}},
                {"data": {"values": [{}]}, "mark": {"type": "text", "text": "Population of stand-alone houses - n=302", "font": "DejaVu Serif", "fontSize": 16, "fontWeight": "bold", "color": "#1A6FBF", "align": "center", "baseline": "middle"}, "encoding": {"x": {"datum": 1.819}, "y": {"datum": 1.096}}},
                {"data": {"values": [{}]}, "mark": {"type": "text", "text": "(g)", "font": "Liberation Serif", "fontSize": 16, "fontWeight": "bold", "color": "#000000", "align": "left", "baseline": "middle"}, "encoding": {"x": {"datum": 0.146}, "y": {"datum": 1.077}}},
                {"data": {"values": [{}]}, "mark": {"type": "circle", "size": 32, "opacity": 1, "color": "#2E7BC6"}, "encoding": {"x": {"datum": 0.702}, "y": {"datum": -0.065}}},
                {"data": {"values": [{}]}, "mark": {"type": "circle", "size": 32, "opacity": 1, "color": "#E46C0A"}, "encoding": {"x": {"datum": 1.773}, "y": {"datum": -0.065}}},
                {"data": {"values": [{}]}, "mark": {"type": "circle", "size": 32, "opacity": 1, "color": "#8A3EC6"}, "encoding": {"x": {"datum": 2.683}, "y": {"datum": -0.065}}},
                {"data": {"values": [{}]}, "mark": {"type": "text", "text": "Frequency", "font": "Liberation Serif", "fontSize": 13, "fontWeight": "bold", "color": "#404040", "align": "left", "baseline": "top", "dx": 7}, "encoding": {"x": {"datum": 0.702}, "y": {"datum": -0.035}}},
                {"data": {"values": [{}]}, "mark": {"type": "text", "text": "Diversity", "font": "Liberation Serif", "fontSize": 13, "fontWeight": "bold", "color": "#404040", "align": "left", "baseline": "top", "dx": 7}, "encoding": {"x": {"datum": 1.773}, "y": {"datum": -0.039}}},
                {"data": {"values": [{}]}, "mark": {"type": "text", "text": ["Technological", "preference"], "lineHeight": 13, "font": "Liberation Serif", "fontSize": 13, "fontWeight": "bold", "color": "#404040", "align": "left", "baseline": "top", "dx": 7}, "encoding": {"x": {"datum": 2.683}, "y": {"datum": -0.041}}}
              ]
            },
            {
              "width": 410, "height": 240,
              "layer": [
                {"data": {"name": "ticks"}, "mark": {"type": "rule", "color": "#E0E0E0", "strokeWidth": 1}, "encoding": {"x": {"datum": 0.5}, "x2": {"datum": 3.5}, "y": {"field": "t", "type": "quantitative", "title": "Scale Value"}}},
                {"data": {"name": "bubbles"}, "transform": [{"filter": "datum.p == 'h'"}],
                 "mark": {"type": "point", "filled": true, "clip": true, "strokeWidth": 0, "shape": "M1,0C1,0.4529,0.5523,0.82,0,0.82C-0.5523,0.82,-1,0.4529,-1,0C-1,-0.4529,-0.5523,-0.82,0,-0.82C0.5523,-0.82,1,-0.4529,1,0Z"},
                 "encoding": {
                   "x": {"field": "x", "type": "quantitative", "scale": {"domain": [0.5, 3.5], "nice": false, "zero": false}, "axis": {"title": "Dimensions", "labels": false, "ticks": false, "grid": false}},
                   "y": {"field": "v", "type": "quantitative", "scale": {"domain": [0, 1], "nice": false, "zero": false}, "axis": {"title": "Scale Value", "labels": false, "grid": false, "ticks": false}},
                   "size": {"field": "n", "type": "quantitative", "scale": {"zero": true, "nice": false, "range": [0, 7921]}, "legend": null},
                   "color": {"field": "dim", "type": "nominal", "scale": {"domain": ["Frequency", "Diversity", "Technological preference"], "range": ["#2E7BC6", "#E46C0A", "#8A3EC6"]}, "legend": null},
                   "opacity": {"field": "tone", "type": "ordinal", "scale": {"domain": ["solid", "medium", "light", "faint"], "range": [1, 0.34]}, "legend": null},
                   "order": {"field": "n", "type": "quantitative", "sort": "descending"}
                 }},
                {"data": {"name": "ticks"}, "mark": {"type": "text", "font": "DejaVu Sans", "fontSize": 10, "color": "#7F7F7F", "align": "right", "baseline": "middle", "dx": -13}, "encoding": {"x": {"datum": 0.5}, "y": {"field": "t", "type": "quantitative", "title": "Scale Value"}, "text": {"field": "t", "type": "quantitative", "format": "~g"}}},
                {"data": {"values": [{}]}, "mark": {"type": "rule", "color": "#000000", "strokeWidth": 2}, "encoding": {"x": {"datum": 0.012}, "y": {"datum": -0.29}, "y2": {"datum": 1.1958}}},
                {"data": {"values": [{}]}, "mark": {"type": "rule", "color": "#000000", "strokeWidth": 2}, "encoding": {"x": {"datum": 0.012}, "x2": {"datum": 3.539}, "y": {"datum": 1.1917}}},
                {"data": {"values": [{}]}, "mark": {"type": "text", "text": "Population of  flats/apartments - n=147", "font": "DejaVu Serif", "fontSize": 16, "fontWeight": "bold", "color": "#1A6FBF", "align": "center", "baseline": "middle"}, "encoding": {"x": {"datum": 1.819}, "y": {"datum": 1.096}}},
                {"data": {"values": [{}]}, "mark": {"type": "text", "text": "(h)", "font": "Liberation Serif", "fontSize": 16, "fontWeight": "bold", "color": "#000000", "align": "left", "baseline": "middle"}, "encoding": {"x": {"datum": 0.146}, "y": {"datum": 1.08}}},
                {"data": {"values": [{}]}, "mark": {"type": "circle", "size": 32, "opacity": 1, "color": "#2E7BC6"}, "encoding": {"x": {"datum": 0.702}, "y": {"datum": -0.065}}},
                {"data": {"values": [{}]}, "mark": {"type": "circle", "size": 32, "opacity": 1, "color": "#E46C0A"}, "encoding": {"x": {"datum": 1.773}, "y": {"datum": -0.065}}},
                {"data": {"values": [{}]}, "mark": {"type": "circle", "size": 32, "opacity": 1, "color": "#8A3EC6"}, "encoding": {"x": {"datum": 2.683}, "y": {"datum": -0.065}}},
                {"data": {"values": [{}]}, "mark": {"type": "text", "text": "Frequency", "font": "Liberation Serif", "fontSize": 13, "fontWeight": "bold", "color": "#404040", "align": "left", "baseline": "top", "dx": 7}, "encoding": {"x": {"datum": 0.702}, "y": {"datum": -0.035}}},
                {"data": {"values": [{}]}, "mark": {"type": "text", "text": "Diversity", "font": "Liberation Serif", "fontSize": 13, "fontWeight": "bold", "color": "#404040", "align": "left", "baseline": "top", "dx": 7}, "encoding": {"x": {"datum": 1.773}, "y": {"datum": -0.039}}},
                {"data": {"values": [{}]}, "mark": {"type": "text", "text": ["Technological", "preference"], "lineHeight": 13, "font": "Liberation Serif", "fontSize": 13, "fontWeight": "bold", "color": "#404040", "align": "left", "baseline": "top", "dx": 7}, "encoding": {"x": {"datum": 2.683}, "y": {"datum": -0.041}}}
              ]
            }
          ]
        }
      ]
    }
  ],
  "config": {
    "view": {"stroke": null},
    "axisX": {"titleFont": "Liberation Serif", "titleFontSize": 18, "titleFontWeight": "bold", "titleColor": "#595959", "titleX": 203, "titleY": 56, "titleBaseline": "middle", "titleAlign": "center", "domainColor": "#D0D0D0", "domainWidth": 1},
    "axisY": {"labels": false, "grid": false, "ticks": false, "domainColor": "#D0D0D0", "domainWidth": 1, "titleFont": "Liberation Serif", "titleFontSize": 16, "titleFontWeight": "bold", "titleColor": "#404040", "titleX": -44, "titleY": 128, "titleAngle": -90, "titleBaseline": "middle", "titleAlign": "center"}
  }
}
